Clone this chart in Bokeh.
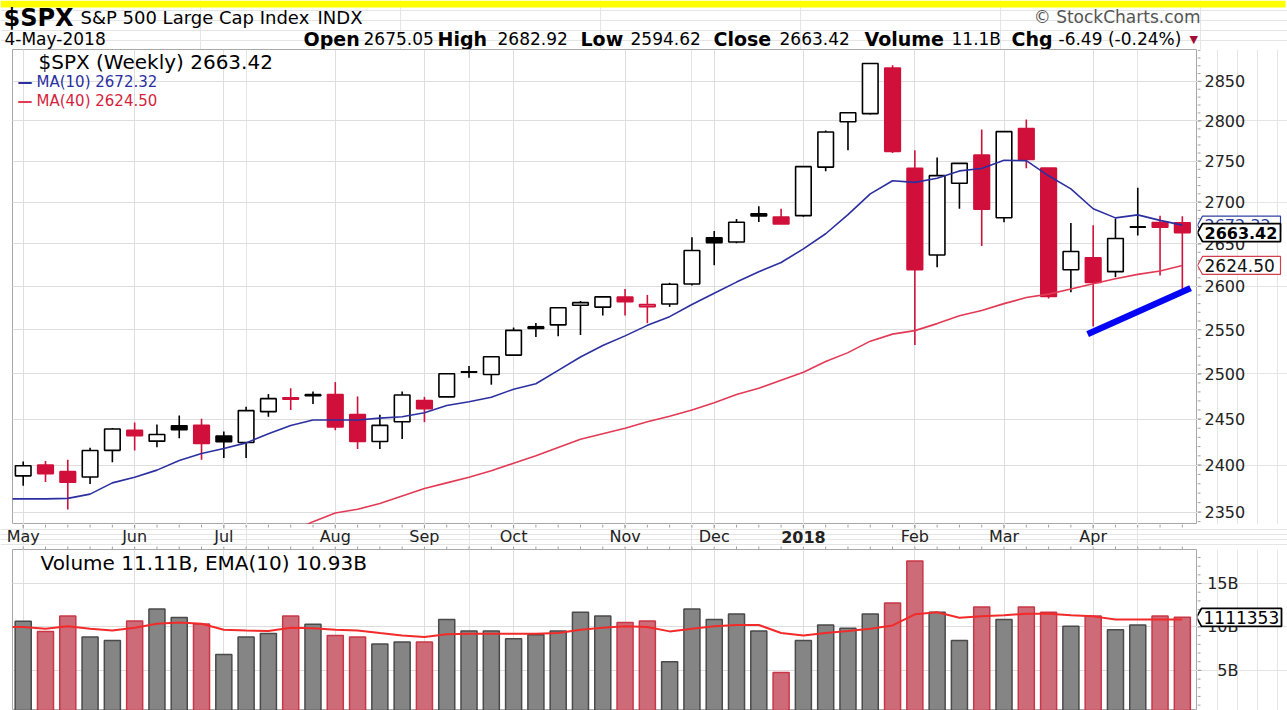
import math
from bokeh.plotting import figure
from bokeh.models import Range1d, FixedTicker, Label, ColumnDataSource, Grid
from bokeh.core.properties import value
from bokeh.layouts import column, row
from bokeh.embed import file_html
from bokeh.resources import INLINE

# ---------------- data (weekly bars, index 0 = week of 1-May-2017) ----------------
month_ticks = [0, 5, 9, 14, 18, 22, 27, 31, 35, 40, 44, 48]
month_labels = ["May", "Jun", "Jul", "Aug", "Sep", "Oct", "Nov", "Dec", "2018", "Feb", "Mar", "Apr"]
month_bold = [False] * 8 + [True] + [False] * 3
price_ticks = [2350, 2400, 2450, 2500, 2550, 2600, 2650, 2700, 2750, 2800, 2850]
volume_ticks = [5, 10, 15]
volume_tick_labels = ["5B", "10B", "15B"]

opens = [2388.5, 2400.0, 2393.0, 2387.2, 2415.9, 2437.8, 2425.9, 2442.6, 2443.3, 2431.4,
         2424.5, 2458.2, 2473.4, 2475.9, 2477.1, 2455.0, 2425.5, 2447.0, 2470.4, 2474.5,
         2502.5, 2499.4, 2521.2, 2551.4, 2555.6, 2578.1, 2576.0, 2587.5, 2576.5, 2579.5,
         2602.7, 2657.2, 2652.2, 2685.9, 2682.1, 2683.7, 2742.7, 2799.0, 2809.2, 2867.2,
         2741.1, 2636.8, 2723.0, 2757.4, 2681.1, 2790.5, 2741.4, 2619.4, 2633.5, 2617.2,
         2670.1, 2675.4, 2675.1]
highs = [2403.9, 2404.5, 2405.8, 2418.7, 2440.2, 2446.2, 2444.0, 2453.8, 2450.4, 2436.4,
         2463.5, 2477.6, 2484.0, 2480.4, 2490.9, 2474.9, 2454.8, 2480.4, 2474.5, 2500.2,
         2508.9, 2519.4, 2552.5, 2557.7, 2575.4, 2583.0, 2588.4, 2597.0, 2590.1, 2604.2,
         2657.7, 2665.2, 2679.6, 2695.0, 2692.1, 2743.5, 2787.9, 2810.3, 2872.9, 2870.6,
         2763.4, 2754.4, 2747.8, 2789.2, 2786.6, 2801.9, 2741.4, 2674.8, 2672.1, 2680.3,
         2717.5, 2683.6, 2682.9]
lows = [2377.8, 2382.0, 2352.7, 2379.8, 2403.0, 2415.7, 2419.4, 2429.0, 2405.7, 2407.7,
        2407.7, 2452.5, 2459.9, 2466.5, 2437.8, 2417.4, 2417.4, 2428.2, 2446.6, 2474.5,
        2495.7, 2488.0, 2520.4, 2541.6, 2542.7, 2544.0, 2566.3, 2566.3, 2557.5, 2576.2,
        2600.9, 2624.8, 2650.6, 2676.1, 2673.6, 2682.4, 2737.6, 2763.5, 2808.1, 2760.0,
        2532.7, 2622.5, 2692.0, 2647.5, 2675.8, 2741.4, 2585.9, 2593.1, 2553.8, 2610.8,
        2660.0, 2612.7, 2594.6]
closes = [2399.3, 2390.9, 2381.7, 2415.8, 2439.1, 2431.8, 2433.2, 2438.3, 2423.4, 2425.2,
          2459.3, 2472.5, 2472.1, 2476.8, 2441.3, 2425.6, 2443.1, 2476.6, 2461.4, 2500.2,
          2502.2, 2519.4, 2549.3, 2553.2, 2575.2, 2581.1, 2587.8, 2582.3, 2578.9, 2602.4,
          2642.2, 2651.5, 2675.8, 2683.3, 2673.6, 2743.2, 2786.2, 2810.3, 2872.9, 2762.1,
          2619.6, 2732.2, 2747.3, 2691.3, 2786.6, 2752.0, 2588.3, 2640.9, 2604.5, 2656.3,
          2670.1, 2669.9, 2663.4]
close_before_first = 2384.2

# MA(10): weeks -1 .. 52
ma10_weeks = list(range(-1, 53))
ma10 = [2364, 2364, 2364, 2364.5, 2369, 2381, 2387, 2394.6, 2405, 2412.6, 2418, 2424, 2434,
        2443, 2449, 2449, 2449, 2451, 2452.6, 2457, 2465, 2469, 2474, 2483, 2489, 2504, 2519,
        2532, 2543, 2555, 2565, 2579, 2592, 2605, 2617, 2628, 2644, 2662, 2685, 2710, 2726,
        2724, 2729, 2738, 2741, 2751, 2750.6, 2732, 2716, 2692, 2681, 2684.6, 2678, 2672.3]
# MA(40): weeks 12 .. 52 (earlier values are below the chart)
ma40_weeks = list(range(12, 53))
ma40 = [2329, 2340, 2349, 2353, 2359, 2367, 2375, 2381, 2387, 2394, 2402, 2410, 2419, 2428,
        2434, 2440, 2447, 2453, 2460, 2468, 2477, 2484, 2493, 2502, 2514, 2524, 2537, 2545,
        2549, 2557, 2566, 2572, 2580, 2587, 2591, 2597, 2603, 2609, 2614, 2618, 2624.5]
last_ma10, last_close, last_ma40 = 2672.32, 2663.42, 2624.50

# weekly volume (billions)
volume = [10.65, 9.49, 11.27, 8.84, 8.45, 10.68, 12.08, 11.1, 10.35, 6.84,
          8.84, 9.26, 11.27, 10.3, 9.03, 8.84, 8.03, 8.26, 8.26, 10.87,
          9.53, 9.53, 8.64, 9.1, 9.53, 11.7, 11.27, 10.5, 10.68, 6.0,
          12.08, 10.87, 11.49, 9.53, 4.77, 8.45, 10.23, 9.85, 11.49, 12.76,
          17.6, 11.7, 8.45, 12.3, 10.87, 12.3, 11.7, 10.07, 11.27, 9.68,
          10.23, 11.27, 11.11]
ema_weeks = list(range(-1, 53))
vol_ema = [10.0, 10.0, 9.8, 10.07, 9.8, 9.6, 9.9, 10.36, 10.5, 10.36, 9.68, 9.6, 9.53, 9.9,
           9.85, 9.68, 9.6, 9.3, 9.03, 8.84, 9.15, 9.22, 9.22, 9.22, 9.22, 9.3, 9.68, 9.91,
           10.07, 10.0, 9.49, 9.8, 10.07, 10.23, 10.23, 9.3, 9.03, 9.3, 9.53, 9.8, 10.18,
           11.45, 11.7, 11.07, 11.22, 11.34, 11.53, 11.53, 11.34, 11.22, 10.87, 10.87, 10.87, 10.87]
last_volume_text = "1111353"

# hand-drawn trend line (week index, price)
trend_weeks = [47.75, 52.37]
trend_prices = [2545, 2598]

# ---------------- styling / layout constants ----------------
FONT = "DejaVu Sans"
W = 1287
HEAD_H = 49          # header strip (page y 0..49)
P_H = 475            # price frame (page y 49..524)
STRIP_H = 25         # month labels (page y 524..549)
V_H = 161            # volume frame (page y 549..710)
FL, FR = 12, 1197    # frame left / right (page x)
AX_W = W - FR
RED = "#d0103a"
GRID = "#dedede"
AXIS = "#a0a0a0"
X0, X1 = -0.48, 52.68
PXW = (FR - FL) / (X1 - X0)
P_LO, P_HI = 2337, 2891
V_LO, V_HI = 0.38, 18.92

x_range = Range1d(X0, X1)
price_y = Range1d(P_LO, P_HI)
vol_y = Range1d(V_LO, V_HI)


def bare(width, height, xr, yr, ylog=False, left=0):
    f = figure(width=width, height=height, x_range=xr, y_range=yr,
               y_axis_type="log" if ylog else "linear",
               x_axis_location=None, y_axis_location=None, output_backend="svg",
               toolbar_location=None, min_border_left=left, min_border_right=0,
               min_border_top=0, min_border_bottom=0)
    f.background_fill_color = "white"
    f.border_fill_color = "white"
    f.outline_line_color = None
    return f


# ---------------- header ----------------
hd = bare(W, HEAD_H, Range1d(0, W), Range1d(HEAD_H, 0))
hd.quad(left=0, right=W - 2, top=0, bottom=7, fill_color="#ffff00", line_color=None)
hdr = dict(
    x=[3, 80, 317, W - 87, 4, 303, 363, 437, 497, 580, 630, 713, 779, 864, 951, 1011, 1058, 1189],
    y=[17, 17, 17, 16, 38, 38, 38, 38, 38, 38, 38, 38, 38, 38, 38, 38, 38, 39],
    text=["$SPX", "S&P 500 Large Cap Index", "INDX", "\u00a9 StockCharts.com", "4-May-2018",
          "Open", "2675.05", "High", "2682.92", "Low", "2594.62", "Close", "2663.42",
          "Volume", "11.1B", "Chg", "-6.49 (-0.24%)", "\u25bc"],
    size=["24px", "18px", "18px", "17px", "17px", "19px", "17px", "19px", "17px", "19px", "17px",
          "19px", "17px", "19px", "17px", "19px", "17px", "11px"],
    style=["bold", "normal", "normal", "normal", "normal", "bold", "normal", "bold", "normal",
           "bold", "normal", "bold", "normal", "bold", "normal", "bold", "normal", "normal"],
    color=["#000000"] * 3 + ["#555555"] + ["#000000"] * 13 + ["#a0103a"],
    align=["left"] * 3 + ["right"] + ["left"] * 14,
)
hd.text(x="x", y="y", text="text", text_font=value(FONT), text_font_size="size",
        text_font_style="style", text_color="color", text_align="align",
        text_baseline="middle", source=ColumnDataSource(hdr))

# ---------------- price panel ----------------
p = bare(FR, P_H, x_range, price_y, ylog=True, left=FL)
p.outline_line_color = "#a8a8a8"
p.add_layout(Grid(dimension=0, ticker=FixedTicker(ticks=month_ticks), grid_line_color=GRID))
p.add_layout(Grid(dimension=1, ticker=FixedTicker(ticks=price_ticks), grid_line_color=GRID))

idx = list(range(len(closes)))
prev = [close_before_first] + closes[:-1]
col = ["black" if c >= pc else RED for c, pc in zip(closes, prev)]
hollow = [c >= o for o, c in zip(opens, closes)]
src = ColumnDataSource(dict(
    x=idx, h=highs, l=lows,
    top=[max(o, c) for o, c in zip(opens, closes)],
    bot=[min(o, c) for o, c in zip(opens, closes)],
    col=col,
    fill=["white" if hh else cc for hh, cc in zip(hollow, col)],
))
p.segment(x0="x", y0="h", x1="x", y1="l", line_color="col", line_width=1.6, source=src)
p.vbar(x="x", top="top", bottom="bot", width=0.7, fill_color="fill", line_color="col",
       line_width=1.6, source=src)
cross = [i for i in idx if abs(opens[i] - closes[i]) < 2.0]
p.segment(x0=[i - 0.36 for i in cross], x1=[i + 0.36 for i in cross],
          y0=[closes[i] for i in cross], y1=[closes[i] for i in cross],
          line_color=[col[i] for i in cross], line_width=2)

p.line(ma10_weeks, ma10, line_color="#2b2fa0", line_width=1.6)
p.line(ma40_weeks, ma40, line_color="#e23a55", line_width=1.6)
p.line(trend_weeks, trend_prices, line_color="#0505f5", line_width=6.5)


def put(fig, fb, X, Y, text, size, color="#000000", bold=False):
    fig.add_layout(Label(x=X - FL, y=fb - Y, x_units="screen", y_units="screen", text=text,
                         text_font=FONT, text_font_size=f"{size}px", text_color=color,
                         text_font_style="bold" if bold else "normal",
                         text_baseline="middle"))


put(p, 524, 38, 61, "$SPX (Weekly) 2663.42", 20)
put(p, 524, 17, 81, "\u2014", 15, color="#2b2fa0", bold=True)
put(p, 524, 36, 81, f"MA(10) {last_ma10:.2f}", 15, color="#2b2fa0")
put(p, 524, 17, 100, "\u2014", 15, color="#e23a55", bold=True)
put(p, 524, 36, 100, f"MA(40) {last_ma40:.2f}", 15, color="#d41f3d")

# price axis panel (right)
pa = bare(AX_W, P_H, Range1d(0, AX_W), price_y, ylog=True)
minor_p = list(range(2340, 2900, 10))
pa.segment(x0=0, x1=3, y0=minor_p, y1=minor_p, line_color=AXIS, line_width=1)
pa.segment(x0=0, x1=4, y0=price_ticks, y1=price_ticks, line_color=AXIS, line_width=1)
pa.text(x=7, y=price_ticks, text=[str(t) for t in price_ticks], text_font=value(FONT),
        text_font_size="16px", text_color="#222222", text_baseline="middle")

K = P_H / math.log(P_HI / P_LO)      # pixels per log unit
TAG_HALF = 9                         # half tag height, px
f = math.exp(TAG_HALF / K)


def price_tag(val, txt, edge, tcolor, bold=False, lw=1.2, size="16px"):
    pa.patch([0, 5, 83, 83, 5], [val, val * f, val * f, val / f, val / f],
             fill_color="white", line_color=edge, line_width=lw)
    pa.text(x=[7], y=[val], text=[txt], text_font=value(FONT), text_font_size=size,
            text_font_style="bold" if bold else "normal", text_color=tcolor,
            text_baseline="middle")


price_tag(last_ma10, f"{last_ma10:.2f}", "#3040a0", "#3040a0")
price_tag(last_ma40, f"{last_ma40:.2f}", "#d04050", "#111111", size="17px")
price_tag(last_close, f"{last_close:.2f}", "black", "black", bold=True, lw=1.8)

# ---------------- month label strip ----------------
st = bare(W, STRIP_H, Range1d(X0 - FL / PXW, X1 + AX_W / PXW), Range1d(STRIP_H, 0))
st.segment(x0=idx, x1=idx, y0=0, y1=3, line_color=AXIS)
st.segment(x0=month_ticks, x1=month_ticks, y0=0, y1=4, line_color=AXIS)
st.segment(x0=idx, x1=idx, y0=STRIP_H - 3, y1=STRIP_H, line_color=AXIS)
st.text(x=month_ticks, y=12, text=month_labels,
        text_font_style=["bold" if b else "normal" for b in month_bold],
        text_font=value(FONT), text_font_size="16px", text_color="#222222",
        text_align="center", text_baseline="middle")

# ---------------- volume panel ----------------
v = bare(FR, V_H, x_range, vol_y, left=FL)
v.outline_line_color = "#a8a8a8"
v.add_layout(Grid(dimension=0, ticker=FixedTicker(ticks=month_ticks), grid_line_color=GRID))
v.add_layout(Grid(dimension=1, ticker=FixedTicker(ticks=volume_ticks), grid_line_color=GRID))
vcol = ["#858585" if c == "black" else "#cd6b78" for c in col]
vline = ["#4a4a4a" if c == "black" else "#c93747" for c in col]
v.vbar(x=idx, top=volume, bottom=0, width=0.72, fill_color=vcol, line_color=vline,
       line_width=1.5)
v.line(ema_weeks, vol_ema, line_color="#f22a2a", line_width=2)
put(v, 710, 40, 562, "Volume 11.11B, EMA(10) 10.93B", 20)

va = bare(AX_W, V_H, Range1d(0, AX_W), vol_y)
minor_v = list(range(1, 19))
va.segment(x0=0, x1=3, y0=minor_v, y1=minor_v, line_color=AXIS)
va.segment(x0=0, x1=4, y0=volume_ticks, y1=volume_ticks, line_color=AXIS)
va.text(x=41, y=volume_ticks, text=volume_tick_labels, text_font=value(FONT),
        text_font_size="16px", text_color="#222222", text_align="right",
        text_baseline="middle")
vh = TAG_HALF * (V_HI - V_LO) / V_H
vv = volume[-1]
va.patch([-1, 4, 84, 84, 4], [vv, vv + vh, vv + vh, vv - vh, vv - vh],
         fill_color="white", line_color="black", line_width=1.8)
va.text(x=[6], y=[vv], text=[last_volume_text], text_font=value(FONT),
        text_font_size="17px", text_baseline="middle", text_color="black")

layout = column(hd, row(p, pa), st, row(v, va))
open("out.html", "w").write(file_html(layout, INLINE))
